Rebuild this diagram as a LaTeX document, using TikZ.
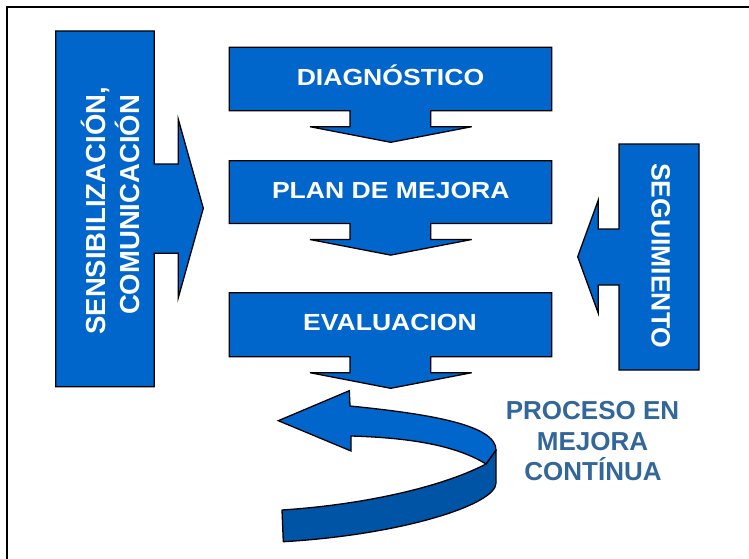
\documentclass[tikz,border=0pt]{standalone}
\usepackage{fontspec}
\setmainfont{Liberation Sans}
\usepackage{graphicx}
\definecolor{boxblue}{HTML}{0066CC}
\definecolor{darkblue}{RGB}{0,84,166}
\definecolor{txtblue}{HTML}{336699}
\tikzset{
  blockshape/.style={fill=boxblue, draw=black, line width=1.3pt, line join=miter},
  ribbondark/.style={fill=darkblue, draw=black, line width=1.3pt, line join=round},
  ribbonlight/.style={fill=boxblue, draw=black, line width=1.3pt, line join=miter},
  boxtext/.style={text=white, font=\fontsize{23.3}{28}\selectfont\bfseries, inner sep=0pt, anchor=base},
  sidetext/.style={text=white, font=\fontsize{27.5}{33}\selectfont\bfseries, inner sep=0pt, anchor=base},
  segtext/.style={text=white, font=\fontsize{26.5}{32}\selectfont\bfseries, inner sep=0pt, anchor=base},
  proctext/.style={text=txtblue, font=\fontsize{26}{31}\selectfont\bfseries, inner sep=0pt, anchor=base},
  framestyle/.style={draw=black, line width=2pt},
}
\newcommand\DownCallout[2]{%
  \draw[blockshape] (229.3,#1) -- (551.7,#1) -- (551.7,#2) -- (430.7,#2) -- (430.7,#2+16)
    -- (471.7,#2+16) -- (390.7,#2+31.6) -- (310,#2+16) -- (350,#2+16) -- (350,#2)
    -- (229.3,#2) -- cycle;}
\begin{document}
\begin{tikzpicture}[x=1pt,y=-1pt]
  \useasboundingbox (0,0) rectangle (749,559);
  \fill[white] (0,0) rectangle (749,559);
  % frame (cut off at right and bottom)
  \draw[framestyle] (6.5,559) -- (6.5,7) -- (749,7);

  % central column
  \DownCallout{47.3}{110.7}
  \DownCallout{160.7}{223.5}
  \DownCallout{292.7}{356.7}
  \node[boxtext] (diag) at (390.5,86) {\scalebox{1.14}[1]{DIAGNÓSTICO}};
  \node[boxtext] (plan) at (390.8,198.3) {\scalebox{1.14}[1]{PLAN DE MEJORA}};
  \node[boxtext] (eval) at (390,330) {\scalebox{1.14}[1]{EVALUACION}};

  % left callout
  \draw[blockshape] (55.7,31) -- (154.3,31) -- (154.3,164) -- (178.3,164) -- (178.3,119.3)
    -- (203.3,208.3) -- (178.3,297.7) -- (178.3,253.3) -- (154.3,253.3) -- (154.3,386.7)
    -- (55.7,386.7) -- cycle;
  \node[sidetext, rotate=90] (sens) at (105,210.8) {SENSIBILIZACIÓN,};
  \node[sidetext, rotate=90] (comu) at (139,205) {COMUNICACIÓN};

  % right callout
  \draw[blockshape] (619,144) -- (699,144) -- (699,370) -- (619,370) -- (619,285)
    -- (598.3,285) -- (598.3,313.3) -- (577.7,256.7) -- (598.3,200) -- (598.3,229)
    -- (619,229) -- cycle;
  \node[segtext, rotate=-90] (seg) at (651.7,255.8) {SEGUIMIENTO};

  % curved ribbon arrow
  \draw[ribbondark] (282,510) .. controls (360,505) and (440,488) .. (486,464)
    -- (496,450) -- (496,483) .. controls (496,505) and (400,535) .. (283.3,541.7) -- cycle;
  \draw[ribbonlight] (350,406) .. controls (430,414) and (496,425) .. (496,450)
    -- (486,464) .. controls (460,448) and (420,438) .. (351,436)
    -- (351,451) -- (278.3,420.7) -- (349.3,390.7) -- cycle;

  % caption
  \node[proctext] (proc1) at (592.5,419.3) {PROCESO EN};
  \node[proctext] (proc2) at (592.5,450) {MEJORA};
  \node[proctext] (proc3) at (593,480) {CONTÍNUA};
\end{tikzpicture}
\end{document}
